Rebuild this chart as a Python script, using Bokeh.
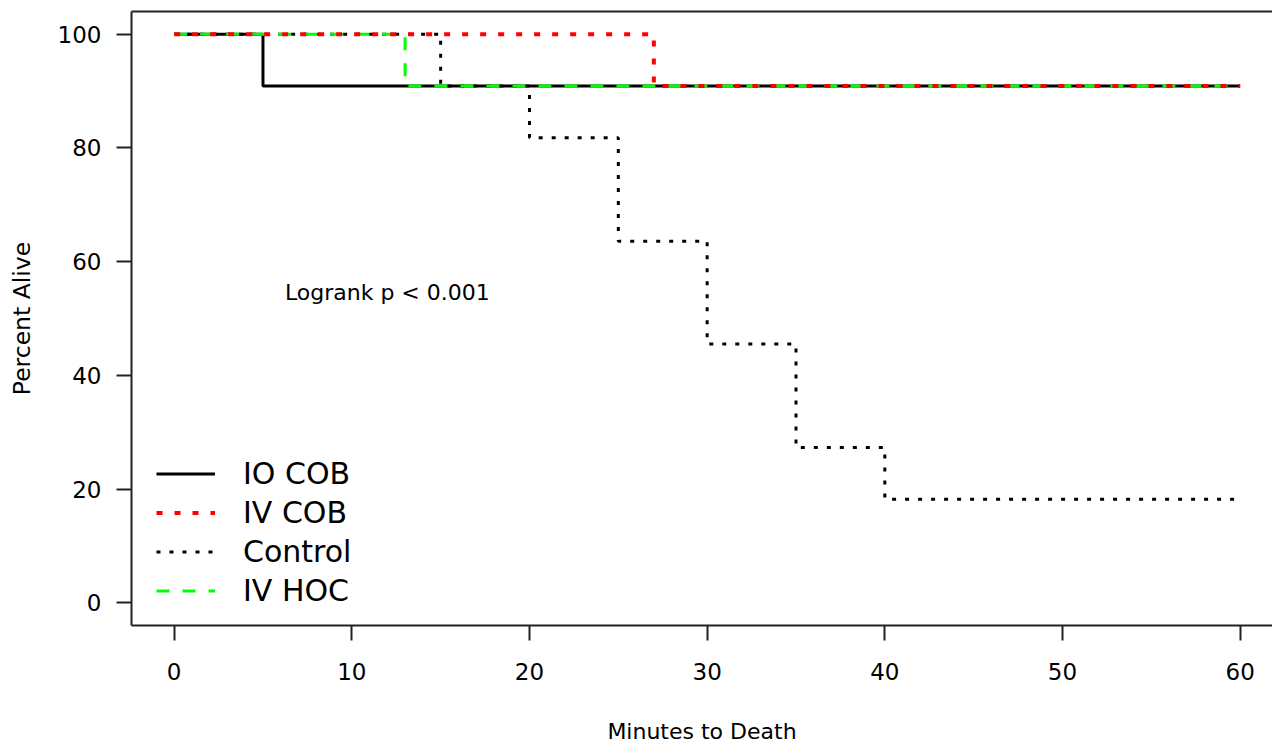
from bokeh.plotting import figure
from bokeh.models import Range1d, FixedTicker, LinearAxis, Legend, LegendItem
from bokeh.core.properties import value
from bokeh.embed import file_html
from bokeh.resources import INLINE

# ---- data ----
io_cob_t = [0, 5, 60]
io_cob_s = [100, 90.9, 90.9]

iv_cob_t = [0, 27, 60]
iv_cob_s = [100, 90.9, 90.9]

control_t = [0, 15, 20, 25, 30, 35, 40, 60]
control_s = [100, 90.9, 81.8, 63.6, 45.5, 27.3, 18.2, 18.2]

iv_hoc_t = [0, 13, 60]
iv_hoc_s = [100, 90.9, 90.9]

x_ticks = [0, 10, 20, 30, 40, 50, 60]
y_ticks = [0, 20, 40, 60, 80, 100]

annot_text = ["Logrank p < 0.001"]
annot_x = [12]
annot_y = [54.5]

FONT = "DejaVu Sans"

p = figure(width=1272, height=746, output_backend="svg", toolbar_location=None,
           x_range=Range1d(-2.4, 61.82), y_range=Range1d(-4, 104),
           min_border_left=131, min_border_right=0, min_border_top=11,
           min_border_bottom=120, x_axis_label="Minutes to Death",
           y_axis_label="Percent Alive")
p.outline_line_color = None
p.grid.visible = False
p.background_fill_color = "white"
p.border_fill_color = "white"

for ax, ticks in ((p.xaxis[0], x_ticks), (p.yaxis[0], y_ticks)):
    ax.ticker = FixedTicker(ticks=ticks)
    ax.minor_tick_line_color = None
    ax.major_tick_in = 0
    ax.major_tick_out = 15
    ax.major_tick_line_width = 2
    ax.major_tick_line_color = "#222222"
    ax.axis_line_width = 2
    ax.axis_line_color = "#222222"
    ax.major_label_text_font = FONT
    ax.major_label_text_font_size = "23px"
    ax.major_label_text_color = "black"
    ax.axis_label_text_font = FONT
    ax.axis_label_text_font_style = "normal"
    ax.axis_label_text_color = "black"

p.xaxis[0].axis_label_text_font_size = "22px"
p.yaxis[0].axis_label_text_font_size = "23.5px"
p.xaxis[0].major_label_standoff = 22
p.xaxis[0].axis_label_standoff = 36
p.yaxis[0].major_label_standoff = 15
p.yaxis[0].axis_label_standoff = 19

top = LinearAxis(ticker=FixedTicker(ticks=[]), axis_line_width=2,
                 axis_line_color="#222222", major_tick_out=0, major_tick_in=0,
                 minor_tick_out=0, minor_tick_in=0)
p.add_layout(top, "above")

r_io = p.step(io_cob_t, io_cob_s, mode="after", line_color="black", line_width=3)
r_ctl = p.step(control_t, control_s, mode="after", line_color="black",
               line_width=3, line_dash="4 9")
r_hoc = p.step(iv_hoc_t, iv_hoc_s, mode="after", line_color="#00ff00",
               line_width=3, line_dash="13 13")
r_ivc = p.step(iv_cob_t, iv_cob_s, mode="after", line_color="#ff0000",
               line_width=4, line_dash="6 12")

p.text(annot_x, annot_y, text=annot_text, text_font=value(FONT),
       text_font_size="22px", text_align="center", text_baseline="middle",
       text_color="black")

legend = Legend(items=[
    LegendItem(label="IO COB", renderers=[r_io]),
    LegendItem(label="IV COB", renderers=[r_ivc]),
    LegendItem(label="Control", renderers=[r_ctl]),
    LegendItem(label="IV HOC", renderers=[r_hoc]),
], location=(25, 15), margin=0, padding=0, spacing=0,
    glyph_width=59, glyph_height=39, label_height=39, label_standoff=28,
    label_text_font=FONT, label_text_font_size="30px", label_text_color="black",
    background_fill_alpha=0, border_line_color=None)
p.add_layout(legend, "center")

open("out.html", "w").write(file_html(p, INLINE))
